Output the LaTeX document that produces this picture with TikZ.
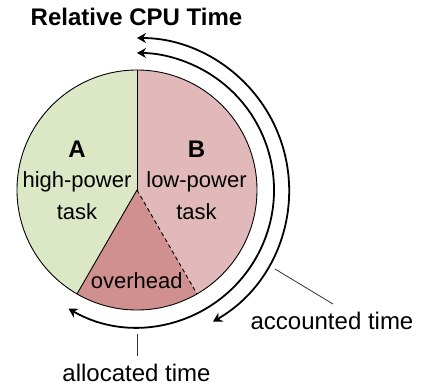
\documentclass[tikz,border=0pt]{standalone}
\usepackage{fontspec}
\setmainfont{Liberation Sans}
\usetikzlibrary{arrows.meta,calc}
\definecolor{agreen}{RGB}{220,232,197}
\definecolor{bpink}{RGB}{226,185,186}
\definecolor{ovred}{RGB}{209,144,144}
\tikzset{
  lbl/.style={anchor=base,inner sep=0pt,font=\fontsize{22}{26}\selectfont},
  olbl/.style={anchor=base,inner sep=0pt,font=\fontsize{24}{28}\selectfont},
  blbl/.style={anchor=base,inner sep=0pt,font=\fontsize{24}{28}\selectfont\bfseries},
  timearc/.style={line width=1.8pt,{Stealth[length=9pt,width=10pt,inset=3pt]}-{Stealth[length=9pt,width=10pt,inset=3pt]}},
  leader/.style={line width=0.8pt,draw=black!80},
  pieline/.style={line width=0.9pt}
}
\begin{document}
\begin{tikzpicture}[x=1pt,y=1pt]
\useasboundingbox (0,0) rectangle (426,-386);
\coordinate (C) at (137,-190);
\def\R{120}
% sectors
\fill[agreen] (C) -- ++(90:\R) arc (90:240:\R) -- cycle;
\fill[bpink] (C) -- ++(-60:\R) arc (-60:90:\R) -- cycle;
\fill[ovred] (C) -- ++(240:\R) arc (240:300:\R) -- cycle;
\draw[pieline] (C) circle (\R);
\draw[pieline] (C) -- ++(90:\R);
\draw[pieline] (C) -- ++(240:\R);
\draw[pieline,dashed,dash pattern=on 4pt off 3pt] (C) -- ++(300:\R);
% arcs
\draw[timearc] ($(C)+(-60:152)$) arc (-60:90:152);
\draw[timearc] ($(C)+(-120:137)$) arc (-120:90:137);
% labels
\node[blbl] (title) at (136.5,-25.5) {Relative CPU Time};
\node[blbl] (A) at (77,-157) {A};
\node[blbl] (B) at (196.5,-157) {B};
\node[lbl] (hp) at (77,-187.5) {high-power};
\node[lbl] (t1) at (77,-219) {task};
\node[lbl] (lp) at (196.5,-187.5) {low-power};
\node[lbl] (t2) at (196.5,-219) {task};
\node[lbl] (ov) at (136.7,-288) {overhead};
\node[olbl] (acc) at (332,-329) {accounted time};
\node[olbl] (alc) at (136.5,-381) {allocated time};
\coordinate (acc1) at (275,-269);
\coordinate (acc2) at (333,-304);
\coordinate (alc1) at (137,-334);
\coordinate (alc2) at (137,-356);
\draw[leader] (acc1) -- (acc2);
\draw[leader] (alc1) -- (alc2);
\end{tikzpicture}
\end{document}
